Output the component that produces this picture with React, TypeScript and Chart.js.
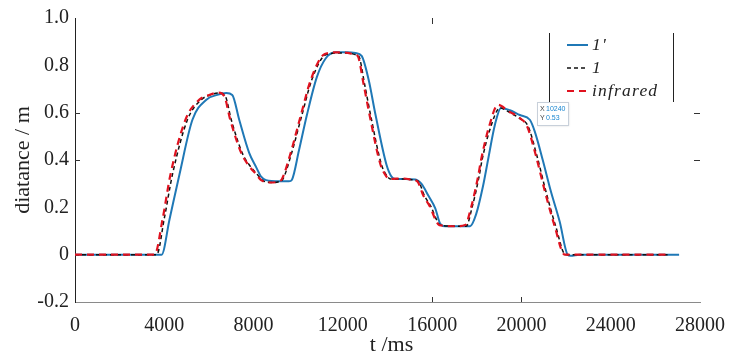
import React, { useEffect, useRef } from 'react';
import { Chart, registerables } from 'chart.js';

Chart.register(...registerables);

// ---- data ----
const blueT = [0, 3879, 4236, 4682, 5261, 5885, 6376, 6777, 7045, 7357, 7803, 8115, 8338, 8561, 9141, 9586, 9720, 10032, 10389, 10834, 11236, 11682, 12172, 12573, 12841, 13153, 13465, 13955, 14178, 14357, 14803, 15248, 15516, 15828, 16140, 16363, 16586, 17389, 17701, 17968, 18280, 18503, 18815, 19083, 19484, 19930, 20376, 20599, 20955, 21312, 21713, 22070, 22204, 22605, 27064];
const blueY = [0, 0, 0.15, 0.34, 0.57, 0.655, 0.675, 0.683, 0.675, 0.57, 0.43, 0.37, 0.33, 0.315, 0.31, 0.31, 0.317, 0.44, 0.59, 0.75, 0.83, 0.855, 0.855, 0.852, 0.84, 0.74, 0.59, 0.38, 0.33, 0.32, 0.32, 0.318, 0.3, 0.25, 0.196, 0.13, 0.12, 0.12, 0.12, 0.17, 0.29, 0.4, 0.55, 0.62, 0.61, 0.59, 0.57, 0.52, 0.4, 0.27, 0.14, 0, -0.005, 0, 0];

const blackT = [0, 3656, 4013, 4369, 5038, 5662, 6064, 6465, 6732, 7000, 7490, 7803, 8160, 8383, 8783, 9185, 9319, 9676, 10166, 10612, 11236, 11815, 12261, 12573, 12707, 12974, 13242, 13732, 14000, 14134, 14713, 15204, 15382, 15650, 15962, 16185, 16363, 17076, 17522, 17790, 18102, 18236, 18592, 19038, 19484, 19930, 20287, 20688, 21089, 21535, 21981, 22293, 26663];
const blackY = [0, 0, 0.16, 0.34, 0.57, 0.655, 0.675, 0.683, 0.67, 0.57, 0.43, 0.38, 0.34, 0.315, 0.305, 0.31, 0.32, 0.42, 0.59, 0.74, 0.845, 0.852, 0.852, 0.845, 0.84, 0.72, 0.59, 0.38, 0.33, 0.32, 0.32, 0.315, 0.31, 0.25, 0.2, 0.15, 0.125, 0.12, 0.12, 0.2, 0.33, 0.4, 0.53, 0.62, 0.6, 0.575, 0.545, 0.42, 0.27, 0.12, 0, 0, 0];

const redT = [0, 3567, 3924, 4280, 4949, 5573, 6019, 6420, 6688, 6955, 7446, 7758, 8115, 8338, 8739, 9140, 9274, 9631, 10121, 10567, 11191, 11771, 12217, 12529, 12662, 12930, 13197, 13688, 13955, 14089, 14669, 15159, 15338, 15605, 15917, 16140, 16319, 17032, 17478, 17746, 18058, 18191, 18548, 18949, 19440, 19885, 20242, 20644, 21045, 21490, 21936, 22293, 26663];
const redY = [0, 0, 0.15, 0.34, 0.57, 0.655, 0.675, 0.685, 0.67, 0.57, 0.43, 0.38, 0.34, 0.315, 0.305, 0.31, 0.32, 0.42, 0.59, 0.74, 0.848, 0.855, 0.853, 0.845, 0.84, 0.72, 0.59, 0.38, 0.33, 0.32, 0.322, 0.315, 0.31, 0.25, 0.2, 0.15, 0.125, 0.12, 0.125, 0.2, 0.33, 0.4, 0.54, 0.633, 0.605, 0.58, 0.545, 0.42, 0.27, 0.12, 0, 0, 0];

const seriesNames = ["1'", '1', 'infrared'];
const seriesColors = ['#1f78b6', '#111111', '#e0121f'];
const xMin = 0;
const xMax = 28000;
const xStep = 4000;
const yMin = -0.2;
const yMax = 1.0;
const yStep = 0.2;
const xTitle = 't /ms';
const yTitle = 'diatance / m';
const tipX = 10240;
const tipY = 0.53;

const pts = (t: number[], y: number[]) => t.map((v, i) => ({ x: v, y: y[i] }));

const SERIF = "'Times New Roman', 'Liberation Serif', serif";

const decorPlugin = {
  id: 'decor',
  afterDraw(chart: any) {
    const ctx = chart.ctx;
    const xs = chart.scales.x;
    const ys = chart.scales.y;
    const ca = chart.chartArea;
    ctx.save();

    // partial box ticks (MATLAB-like)
    ctx.strokeStyle = '#333';
    ctx.lineWidth = 1;
    [0.6, 0.4].forEach((v) => {
      const py = Math.round(ys.getPixelForValue(v)) + 0.5;
      ctx.beginPath();
      ctx.moveTo(ca.left, py);
      ctx.lineTo(ca.left + 5, py);
      ctx.stroke();
      ctx.beginPath();
      ctx.moveTo(ca.right - 6, py);
      ctx.lineTo(ca.right, py);
      ctx.stroke();
    });
    [16000, 20000].forEach((v) => {
      const px = Math.round(xs.getPixelForValue(v)) + 0.5;
      ctx.beginPath();
      ctx.moveTo(px, ca.bottom);
      ctx.lineTo(px, ca.bottom - 5);
      ctx.stroke();
    });
    {
      const px = Math.round(xs.getPixelForValue(16000)) + 0.5;
      ctx.beginPath();
      ctx.moveTo(px, ca.top);
      ctx.lineTo(px, ca.top + 6);
      ctx.stroke();
    }

    // axis titles
    ctx.fillStyle = '#222';
    ctx.font = `22px ${SERIF}`;
    ctx.textAlign = 'center';
    ctx.textBaseline = 'middle';
    ctx.fillText(xTitle, (ca.left + ca.right) / 2 + 4, 345);
    ctx.save();
    ctx.translate(23, (ca.top + ca.bottom) / 2);
    ctx.rotate(-Math.PI / 2);
    ctx.fillText(yTitle, 0, 0);
    ctx.restore();

    // legend
    const lx = 549;
    const rx = 673;
    ctx.strokeStyle = '#222';
    ctx.lineWidth = 1;
    ctx.beginPath();
    ctx.moveTo(lx + 0.5, 33);
    ctx.lineTo(lx + 0.5, 102);
    ctx.moveTo(rx + 0.5, 33);
    ctx.lineTo(rx + 0.5, 102);
    ctx.stroke();
    const rows = [45, 68, 91];
    const dashes = [[], [4, 3], [7, 5]];
    const widths = [2, 1.6, 2.2];
    rows.forEach((ry, i) => {
      ctx.strokeStyle = seriesColors[i];
      ctx.lineWidth = widths[i];
      ctx.setLineDash(dashes[i]);
      ctx.beginPath();
      ctx.moveTo(567, ry);
      ctx.lineTo(588, ry);
      ctx.stroke();
      ctx.setLineDash([]);
      ctx.fillStyle = '#222';
      ctx.font = `italic 17.5px ${SERIF}`;
      (ctx as any).letterSpacing = '1.2px';
      ctx.textAlign = 'left';
      ctx.textBaseline = 'middle';
      ctx.fillText(seriesNames[i], 592, ry);
      (ctx as any).letterSpacing = '0px';
    });

    // data tip
    const bx = 537;
    const by = 102;
    ctx.shadowColor = 'rgba(0,0,0,0.15)';
    ctx.shadowBlur = 2;
    ctx.shadowOffsetX = 1;
    ctx.shadowOffsetY = 1;
    ctx.fillStyle = '#ffffff';
    ctx.fillRect(bx, by, 31, 23);
    ctx.shadowColor = 'transparent';
    ctx.strokeStyle = '#c8d0da';
    ctx.lineWidth = 1;
    ctx.strokeRect(bx + 0.5, by + 0.5, 31, 23);
    ctx.font = "7px 'Liberation Sans', Arial, sans-serif";
    ctx.textAlign = 'left';
    ctx.textBaseline = 'middle';
    ctx.fillStyle = '#444';
    ctx.fillText('X', bx + 3, by + 7);
    ctx.fillText('Y', bx + 3, by + 16);
    ctx.fillStyle = '#1a86d0';
    ctx.fillText(String(tipX), bx + 9, by + 7);
    ctx.fillText(tipY.toFixed(2), bx + 9, by + 16);

    ctx.restore();
  },
};

export default function App() {
  const ref = useRef<HTMLCanvasElement | null>(null);

  useEffect(() => {
    if (!ref.current) return;
    const common = {
      pointRadius: 0,
      pointHoverRadius: 0,
      fill: false,
      cubicInterpolationMode: 'monotone' as const,
    };
    const chart = new Chart(ref.current, {
      type: 'line',
      data: {
        datasets: [
          {
            ...common,
            label: seriesNames[0],
            data: pts(blueT, blueY),
            borderColor: seriesColors[0],
            borderWidth: 2,
            order: 3,
          },
          {
            ...common,
            label: seriesNames[1],
            data: pts(blackT, blackY),
            borderColor: seriesColors[1],
            borderWidth: 1.5,
            borderDash: [4, 3],
            order: 2,
          },
          {
            ...common,
            label: seriesNames[2],
            data: pts(redT, redY),
            borderColor: seriesColors[2],
            borderWidth: 2.2,
            borderDash: [7, 5],
            order: 1,
          },
        ],
      },
      options: {
        animation: false,
        responsive: false,
        maintainAspectRatio: false,
        devicePixelRatio: 1,
        layout: { padding: { left: 0, top: 14, right: 34, bottom: 0 } },
        plugins: {
          legend: { display: false },
          tooltip: { enabled: false },
        },
        events: [],
        scales: {
          x: {
            type: 'linear',
            min: xMin,
            max: xMax,
            ticks: {
              stepSize: xStep,
              color: '#222',
              font: { family: SERIF, size: 20 },
              padding: 12,
              maxRotation: 0,
              callback: (v: any) => String(v),
            },
            grid: { display: false, drawTicks: false },
            border: { display: true, color: '#8a8a8a', width: 1 },
            afterFit: (s: any) => {
              s.height = 56;
            },
          },
          y: {
            type: 'linear',
            min: yMin,
            max: yMax,
            ticks: {
              stepSize: yStep,
              color: '#222',
              font: { family: SERIF, size: 20 },
              padding: 6,
              callback: (v: any) => (Math.abs(v) < 1e-9 ? '0' : Number(v).toFixed(1)),
            },
            grid: { display: false, drawTicks: false },
            border: { display: true, color: '#222', width: 1 },
            afterFit: (s: any) => {
              s.width = 75;
            },
          },
        },
      },
      plugins: [decorPlugin],
    });
    return () => chart.destroy();
  }, []);

  return (
    <div style={{ position: 'fixed', left: 0, top: 0, width: 737, height: 358, background: '#fff' }}>
      <canvas ref={ref} width={737} height={358} style={{ width: 737, height: 358, display: 'block' }} />
    </div>
  );
}
